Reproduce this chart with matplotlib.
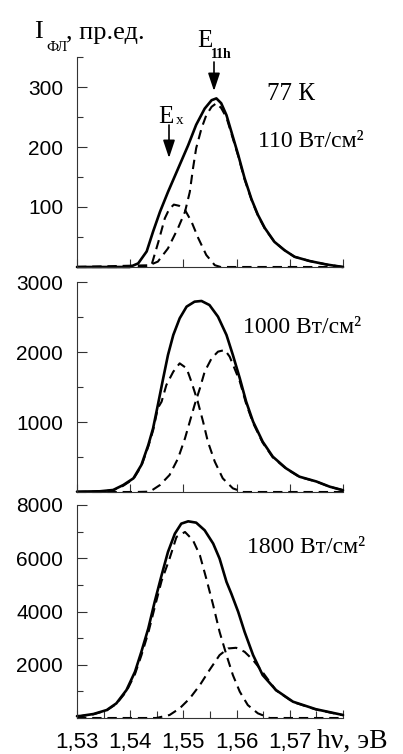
import matplotlib
matplotlib.use("Agg")
import matplotlib.pyplot as plt
from matplotlib.patches import FancyArrowPatch

plt.rcParams["font.family"] = ["Liberation Sans", "DejaVu Sans"]

# --- data: photoluminescence spectra at 77 K ---
# panel 1: 110 W/cm^2
e1_sum = [1.530, 1.536, 1.5399, 1.5415, 1.5431, 1.5443, 1.5456, 1.5471, 1.5490, 1.5509,
          1.5524, 1.5540, 1.5553, 1.5562, 1.5571, 1.5581, 1.5590, 1.5603, 1.5615, 1.5628,
          1.5640, 1.5653, 1.5671, 1.5690, 1.5709, 1.5737, 1.5770, 1.580]
i1_sum = [0, 0, 0, 6, 26, 59, 92, 125, 164, 203,
          237, 264, 278, 281, 273, 253, 226, 187, 148, 113,
          87, 65, 42, 28, 17, 10, 4, 0]
e1_x = [1.530, 1.5440, 1.5453, 1.5465, 1.5473, 1.5482, 1.5492, 1.5503, 1.5515, 1.5528,
        1.5543, 1.5559, 1.5570, 1.580]
i1_x = [0, 3, 42, 81, 96, 104, 102, 95, 76, 48,
        20, 3, 0, 0]
e1_h = [1.530, 1.5428, 1.5452, 1.5471, 1.5490, 1.5503, 1.5512, 1.5518, 1.5524, 1.5534,
        1.5543, 1.5553, 1.5562, 1.5571, 1.5581, 1.5590, 1.5603, 1.5615, 1.5628, 1.5640,
        1.5653, 1.5671, 1.5690, 1.5709, 1.5737, 1.5770, 1.580]
i1_h = [0, 0, 9, 31, 65, 92, 125, 164, 198, 231,
        253, 267, 273, 265, 249, 223, 185, 146, 112, 86,
        64, 42, 28, 17, 10, 4, 0]

# panel 2: 1000 W/cm^2
e2_sum = [1.530, 1.5343, 1.5368, 1.5387, 1.5406, 1.5421, 1.5434, 1.5443, 1.5452, 1.5462,
          1.5471, 1.5481, 1.5493, 1.5506, 1.5521, 1.5534, 1.5549, 1.5565, 1.5581, 1.5593,
          1.5606, 1.5618, 1.5631, 1.5649, 1.5668, 1.5693, 1.5718, 1.5750, 1.5775, 1.580]
i2_sum = [5, 10, 29, 100, 195, 386, 671, 910, 1243, 1624,
          1957, 2243, 2481, 2648, 2719, 2729, 2671, 2505, 2243, 1957,
          1624, 1290, 1005, 719, 505, 338, 219, 150, 76, 25]
e2_x = [1.530, 1.5343, 1.5368, 1.5387, 1.5406, 1.5421, 1.5434, 1.5443, 1.5452, 1.5459,
        1.5468, 1.5481, 1.5493, 1.5506, 1.5515, 1.5527, 1.5537, 1.5546, 1.5559, 1.5574,
        1.5593, 1.5612, 1.580]
i2_x = [0, 5, 25, 90, 185, 370, 650, 880, 1200, 1290,
        1529, 1719, 1838, 1767, 1576, 1290, 1005, 719, 433, 195,
        52, 0, 0]
e2_h = [1.530, 1.5410, 1.5437, 1.5456, 1.5474, 1.5490, 1.5503, 1.5512, 1.5521, 1.5531,
        1.5540, 1.5553, 1.5565, 1.5578, 1.5587, 1.5596, 1.5606, 1.5618, 1.5631, 1.5649,
        1.5668, 1.5693, 1.5718, 1.5750, 1.5775, 1.580]
i2_h = [0, 0, 5, 100, 243, 481, 767, 1005, 1243, 1481,
        1719, 1910, 2005, 2029, 1933, 1767, 1580, 1260, 985, 705,
        495, 333, 216, 148, 75, 25]

# panel 3: 1800 W/cm^2
e3_sum = [1.530, 1.5306, 1.5331, 1.5356, 1.5374, 1.5393, 1.5409, 1.5421, 1.5434, 1.5446,
          1.5459, 1.5471, 1.5484, 1.5496, 1.5509, 1.5524, 1.5540, 1.5556, 1.5568, 1.5581,
          1.5590, 1.5603, 1.5615, 1.5631, 1.5649, 1.5674, 1.5706, 1.5749, 1.580]
i3_sum = [70, 75, 150, 300, 550, 1050, 1737, 2487, 3362, 4362,
          5362, 6237, 6925, 7300, 7387, 7337, 7050, 6550, 5987, 5112,
          4675, 3987, 3237, 2362, 1612, 1050, 612, 330, 112]
e3_x = [1.530, 1.5331, 1.5356, 1.5374, 1.5393, 1.5409, 1.5421, 1.5434, 1.5446, 1.5459,
        1.5474, 1.5487, 1.5503, 1.5518, 1.5531, 1.5543, 1.5556, 1.5568, 1.5581, 1.5593,
        1.5606, 1.5621, 1.5640, 1.5662, 1.580]
i3_x = [50, 140, 290, 530, 1000, 1650, 2350, 3200, 4150, 5150,
        5987, 6800, 6987, 6675, 6112, 5237, 4237, 3237, 2362, 1612,
        987, 487, 175, 0, 0]
e3_h = [1.530, 1.5449, 1.5474, 1.5493, 1.5512, 1.5531, 1.5549, 1.5568, 1.5584, 1.5599,
        1.5615, 1.5631, 1.5646, 1.5674, 1.5706, 1.5749, 1.580]
i3_h = [0, 0, 112, 362, 737, 1237, 1800, 2362, 2612, 2637,
        2487, 2175, 1800, 1040, 600, 320, 105]

x_ticks = [1.53, 1.54, 1.55, 1.56, 1.57, 1.58]
x_labels = ["1,53", "1,54", "1,55", "1,56", "1,57", ""]

panels = [
    dict(sum=(e1_sum, i1_sum), x=(e1_x, i1_x), h=(e1_h, i1_h), ymax=350,
         major=[100, 200, 300], minor=[50, 150, 250, 350], xminor=False),
    dict(sum=(e2_sum, i2_sum), x=(e2_x, i2_x), h=(e2_h, i2_h), ymax=3000,
         major=[1000, 2000, 3000], minor=[500, 1500, 2500], xminor=False),
    dict(sum=(e3_sum, i3_sum), x=(e3_x, i3_x), h=(e3_h, i3_h), ymax=8000,
         major=[2000, 4000, 6000, 8000], minor=[1000, 3000, 5000, 7000], xminor=True),
]

W, H = 403, 754
fig = plt.figure(figsize=(W / 100, H / 100), dpi=100)
fig.patch.set_facecolor("white")

# axes boxes in pixels: (top, bottom)
boxes = [(57, 267), (282, 492), (505, 718)]
left_px, right_px = 77, 343

serif = "Liberation Serif"
sans = "Liberation Sans"


def fx(x):
    return x / W


def fy(y):
    return 1 - y / H


axes = []
for p, (top, bot) in zip(panels, boxes):
    ax = fig.add_axes([fx(left_px), fy(bot), (right_px - left_px) / W, (bot - top) / H])
    ax.plot(*p["sum"], color="black", lw=1.9, clip_on=False,
            solid_joinstyle="round", solid_capstyle="round")
    ax.plot(*p["x"], color="black", lw=1.5, dashes=(4.5, 2.8), clip_on=False)
    ax.plot(*p["h"], color="black", lw=1.5, dashes=(4.5, 2.8), clip_on=False)
    ax.set_xlim(1.53, 1.58)
    ax.set_ylim(0, p["ymax"])
    for s in ("top", "right"):
        ax.spines[s].set_visible(False)
    for s in ("left", "bottom"):
        ax.spines[s].set_linewidth(0.8)
        ax.spines[s].set_color("#333333")
    ax.set_yticks(p["major"])
    ax.set_yticks(p["minor"], minor=True)
    ax.set_yticklabels([str(v) for v in p["major"]], fontfamily=sans, fontsize=15)
    ax.set_xticks(x_ticks)
    if p["xminor"]:
        ax.set_xticks([1.535, 1.545, 1.555, 1.565, 1.575], minor=True)
    ax.tick_params(axis="both", which="both", direction="in", color="#333333", width=0.8)
    ax.tick_params(axis="y", which="major", length=7, pad=10)
    ax.tick_params(axis="y", which="minor", length=4)
    ax.tick_params(axis="x", which="major", length=6, pad=10)
    ax.tick_params(axis="x", which="minor", length=5)
    axes.append(ax)

axes[0].set_xticklabels([])
axes[1].set_xticklabels([])
axes[2].set_xticklabels(x_labels, fontfamily=sans, fontsize=16)

# axis titles
fig.text(fx(34), fy(38), "I", family=serif, fontsize=19, va="baseline")
fig.text(fx(46), fy(51), "ФЛ", family=serif, fontsize=11, va="baseline")
fig.text(fx(66), fy(39), ", пр.ед.", family=serif, fontsize=19, va="baseline")
fig.text(fx(317), fy(748), "hν, эВ", family=serif, fontsize=20, va="baseline")

# peak labels and arrows
fig.text(fx(197), fy(47), "E", family=serif, fontsize=18, va="baseline")
fig.text(fx(211), fy(58), "11h", family=serif, fontsize=10, fontweight="bold", va="baseline")
fig.text(fx(158), fy(123), "E", family=serif, fontsize=18, va="baseline")
fig.text(fx(176), fy(124), "x", family=serif, fontsize=11, va="baseline")

arrow = dict(arrowstyle="-|>,head_length=0.9,head_width=0.3", color="black",
             lw=1.2, mutation_scale=12, shrinkA=0, shrinkB=0)
fig.add_artist(FancyArrowPatch((fx(214), fy(62)), (fx(214), fy(91)),
                               transform=fig.transFigure, **arrow))
fig.add_artist(FancyArrowPatch((fx(169), fy(125)), (fx(169), fy(158)),
                               transform=fig.transFigure, **arrow))

# conditions
fig.text(fx(267), fy(100), "77 К", family=serif, fontsize=18, va="baseline")
fig.text(fx(258), fy(147), "110 Вт/см²", family=serif, fontsize=17, va="baseline")
fig.text(fx(243), fy(333), "1000 Вт/см²", family=serif, fontsize=17, va="baseline")
fig.text(fx(247), fy(553), "1800 Вт/см²", family=serif, fontsize=17, va="baseline")

fig.savefig("out.png", dpi=100, facecolor="white")
